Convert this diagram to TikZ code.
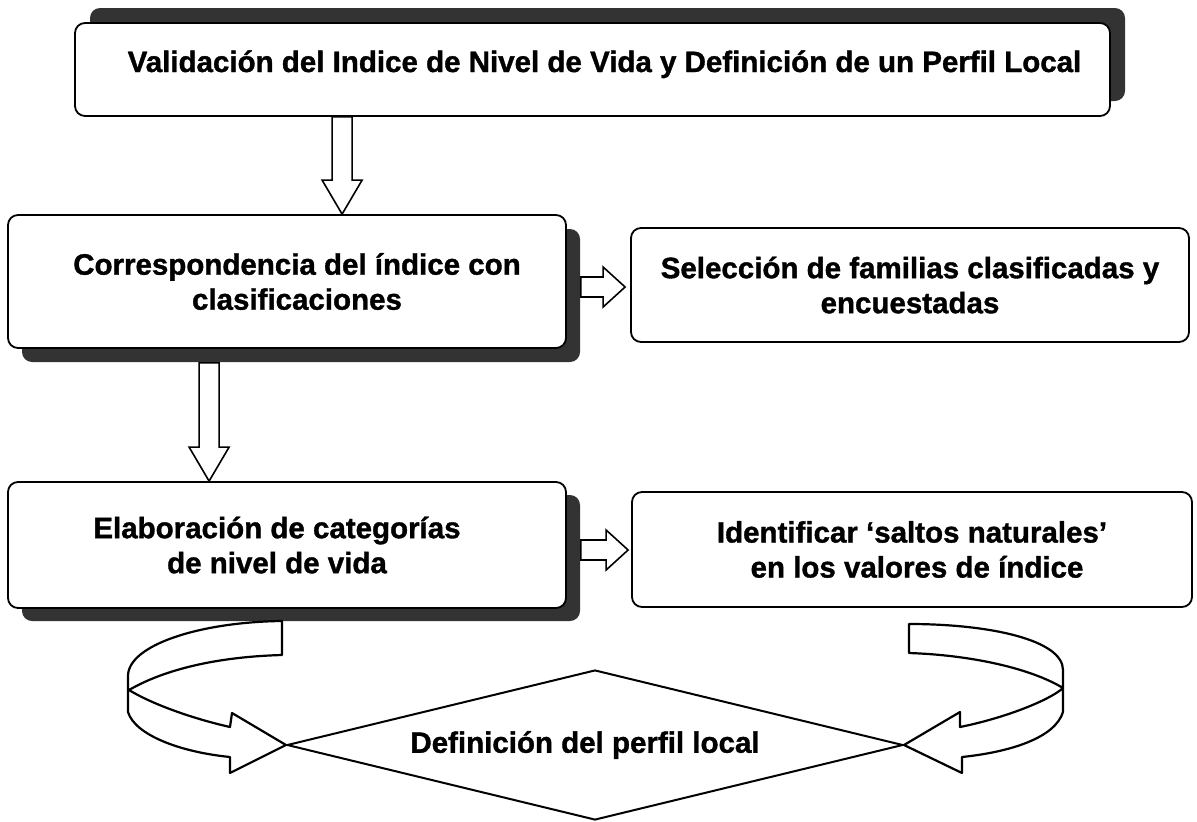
\documentclass[tikz,border=0pt]{standalone}
\usepackage{fontspec}
\setmainfont{Liberation Sans}
\newfontfamily\heavyfont{Liberation Sans Bold}[FakeBold=1.2]
\usetikzlibrary{calc,shapes.geometric}
\tikzset{
  box/.style={draw=black, line width=1.8pt, rounded corners=10pt, fill=white,
    inner sep=0pt, align=center, font=\heavyfont\fontsize{29.5}{35}\selectfont},
  shadowbox/.style={fill=black!80, rounded corners=10pt, draw=none},
  barrow/.style={draw=black, line width=1.6pt, fill=white, line join=miter},
  ribbon/.style={draw=black, line width=2.2pt, fill=white, line join=round},
  decision/.style={diamond, aspect=4.1, draw=black, line width=2pt, inner sep=0pt,
    minimum width=616pt, minimum height=150pt, fill=white,
    font=\heavyfont\fontsize{29.5}{35}\selectfont}
}
\newcommand\blkdown[2]{%
  \draw[barrow] let \p1=#1, \p2=#2 in
    (\x1-10pt,\y1) -- (\x1-10pt,\y2+34pt) -- (\x1-20pt,\y2+34pt) -- (\x1,\y2)
    -- (\x1+20pt,\y2+34pt) -- (\x1+10pt,\y2+34pt) -- (\x1+10pt,\y1) -- cycle;}
\newcommand\blkright[2]{%
  \draw[barrow] let \p1=#1, \p2=#2 in
    (\x1,\y1+10pt) -- (\x2-22pt,\y1+10pt) -- (\x2-22pt,\y1+20pt) -- (\x2,\y1)
    -- (\x2-22pt,\y1-20pt) -- (\x2-22pt,\y1-10pt) -- (\x1,\y1-10pt) -- cycle;}
\begin{document}
\begin{tikzpicture}[x=1pt,y=-1pt]
\useasboundingbox (0,0) rectangle (1197,822);
% shadows
\fill[shadowbox] (90,8) rectangle (1125,101);
\fill[shadowbox] (22,229) rectangle (580,362);
\fill[shadowbox] (22,495) rectangle (580,621);
% boxes
\node[box, minimum width=1035pt, minimum height=93pt, text height=25pt, text depth=20pt]
  (top) at (592.5,69.5) {\hspace*{24pt}Validación del Indice de Nivel de Vida y Definición de un Perfil Local};
\node[box, minimum width=558pt, minimum height=133pt] (corr) at (287,281.5)
  {\hspace*{20pt}Correspondencia del índice con\\\hspace*{20pt}clasificaciones};
\node[box, minimum width=558pt, minimum height=114pt] (sel) at (910,285)
  {Selección de familias clasificadas y\\encuestadas};
\node[box, minimum width=558pt, minimum height=126pt] (elab) at (287,545)
  {\hspace*{-20pt}Elaboración de categorías\\\hspace*{-20pt}de nivel de vida};
\node[box, minimum width=560pt, minimum height=115pt] (ident) at (912,549.5)
  {Identificar ‘saltos naturales’\\\hspace*{10pt}en los valores de índice};
% block arrows
\blkdown{($(top.south west)+(268,0)$)}{(corr.north)}
\blkdown{($(corr.south west)+(202,14)$)}{(elab.north)}
\blkright{($(corr.east)+(14,5.5)$)}{($(sel.west)+(-5,0)$)}
\blkright{($(elab.east)+(14,5)$)}{($(ident.west)+(-3,0)$)}
% decision
\node[decision] (diam) at (595,745) {\hspace*{-20pt}Definición del perfil local};
% curved ribbon arrows
\draw[ribbon] (282,621) .. controls (200,622) and (128,645) .. (128,676)
  -- (128,712) .. controls (135,735) and (180,752) .. (230,757)
  -- (230,773) -- (diam.west) -- (232,713) -- (230,727)
  .. controls (190,718) and (150,703) .. (129,690)
  .. controls (160,672) and (210,657) .. (282,655) -- cycle;
\draw[ribbon] (909,624) .. controls (990,624) and (1063,640) .. (1063,670)
  -- (1063,712) .. controls (1055,738) and (1010,752) .. (962,757)
  -- (962,773) -- (diam.east) -- (960,712) -- (960,727)
  .. controls (1005,718) and (1050,700) .. (1063,688)
  .. controls (1030,668) and (970,655) .. (909,653) -- cycle;
\end{tikzpicture}
\end{document}
